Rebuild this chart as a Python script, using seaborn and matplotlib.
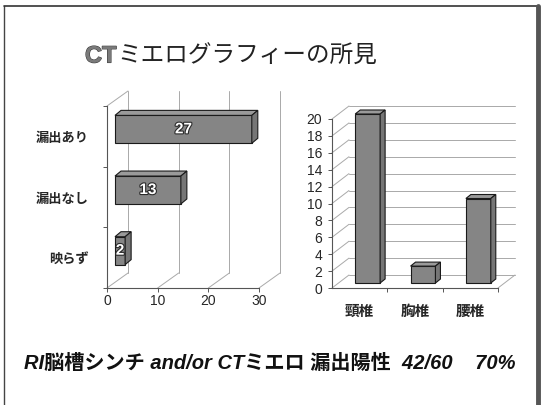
import matplotlib
matplotlib.use("Agg")
import matplotlib.pyplot as plt
import matplotlib.transforms as mtransforms
import matplotlib.patheffects as pe
from matplotlib.lines import Line2D
from matplotlib.patches import Polygon
import pandas as pd
import seaborn as sns

# ---- data ----
title_lead = "CT"
title_rest = "ミエログラフィーの所見"

leak_labels = ["漏出あり", "漏出なし", "映らず"]
leak_counts = [27, 13, 2]
leak_ticks = [0, 10, 20, 30]

level_labels = ["頸椎", "胸椎", "腰椎"]
level_counts = [20, 2, 10]
level_ticks = list(range(0, 21, 2))

footer = "RI脳槽シンチ and/or CTミエロ 漏出陽性  42/60    70%"

# ---- style ----
sns.set_theme(style="white")
plt.rcParams["font.family"] = ["Liberation Sans", "Noto Sans CJK JP"]

W, H, DPI = 542, 405, 100
fig = plt.figure(figsize=(W / DPI, H / DPI), dpi=DPI)
fig.patch.set_facecolor("white")

BAR_FRONT = "#858585"
BAR_TOP = "#9a9a9a"
BAR_SIDE = "#767676"
EDGE = "#1a1a1a"
GRID = "#a9a9a9"
AXIS = "#555555"
IDENT = mtransforms.IdentityTransform()


def px_axes(x0, y_top, x1, y_bot):
    """Axes placed by pixel box measured from the top-left corner."""
    return fig.add_axes([x0 / W, 1 - y_bot / H, (x1 - x0) / W, (y_bot - y_top) / H])


def shifted(ax, dx, dy):
    return ax.transData + mtransforms.ScaledTranslation(dx / DPI, dy / DPI, fig.dpi_scale_trans)


def depth_line(ax, x, y, dx, dy, **kw):
    px, py = ax.transData.transform((x, y))
    ax.add_line(Line2D([px, px + dx], [py, py + dy], transform=IDENT,
                       clip_on=False, **kw))


def extrude(ax, rect, ox, oy, dx, dy):
    """Shift a bar to its front plane and add top and side faces."""
    rect.set_transform(shifted(ax, ox, oy))
    rect.set_clip_on(False)
    rect.set_facecolor(BAR_FRONT)
    rect.set_edgecolor(EDGE)
    rect.set_linewidth(0.8)
    x0, y0 = rect.get_x(), rect.get_y()
    x1, y1 = x0 + rect.get_width(), y0 + rect.get_height()
    pa = ax.transData.transform((x0, y0))
    pb = ax.transData.transform((x1, y1))
    l, r = min(pa[0], pb[0]) + ox, max(pa[0], pb[0]) + ox
    b, t = min(pa[1], pb[1]) + oy, max(pa[1], pb[1]) + oy
    top = [(l, t), (r, t), (r + dx, t + dy), (l + dx, t + dy)]
    side = [(r, b), (r, t), (r + dx, t + dy), (r + dx, b + dy)]
    for pts, col in ((top, BAR_TOP), (side, BAR_SIDE)):
        ax.add_patch(Polygon(pts, closed=True, transform=IDENT, clip_on=False,
                             facecolor=col, edgecolor=EDGE, linewidth=0.8, zorder=3))


def bar_label(ax, x, y, text, ox, oy):
    ax.text(x, y, text, transform=shifted(ax, ox, oy), ha="center", va="center",
            fontsize=11, fontweight="bold", color="white", zorder=5,
            path_effects=[pe.withStroke(linewidth=1.6, foreground="#2a2a2a")])


# ---- slide frame ----
fig.add_artist(Line2D([4, 4], [0, H - 6], transform=IDENT, color="#444444", lw=1.0))
fig.add_artist(Line2D([4, 538], [H - 6, H - 6], transform=IDENT, color="#333333", lw=1.2))
fig.add_artist(Line2D([538, 538], [0, H - 6], transform=IDENT, color="#555555", lw=3.5))

# ---- title ----
t1 = fig.text(85 / W, 1 - 56 / H, title_lead, fontsize=17, fontweight="bold",
              color="#7a7a7a", ha="left", va="center",
              path_effects=[pe.withStroke(linewidth=0.8, foreground="#3a3a3a")])
renderer = fig.canvas.get_renderer()
bb = t1.get_window_extent(renderer)
fig.text(bb.x1 / W + 1 / W, 1 - 56 / H, title_rest, fontsize=17, color="#222222",
         ha="left", va="center", family=["Noto Sans CJK JP", "DejaVu Sans"])

# ---- left chart: horizontal 3D bars ----
LDX, LDY = 21, 15          # wall depth in pixels
axL = px_axes(107, 106, 259, 288)
df_leak = pd.DataFrame({"label": leak_labels, "count": leak_counts})
sns.barplot(data=df_leak, x="count", y="label", orient="h", color=BAR_FRONT,
            width=0.46, ax=axL, zorder=2)
axL.set_xlim(0, 30)
axL.set_ylim(2.5, -0.5)
axL.set_xlabel("")
axL.set_ylabel("")
axL.set_facecolor("none")

for v in leak_ticks:
    axL.plot([v, v], [2.5, -0.5], transform=shifted(axL, LDX, LDY), color=GRID,
             lw=0.7, clip_on=False, zorder=0.5)
    depth_line(axL, v, 2.5, LDX, LDY, color=GRID, lw=0.7, zorder=0.5)
depth_line(axL, 0, -0.5, LDX, LDY, color=GRID, lw=0.7, zorder=0.5)

for rect in list(axL.patches):
    extrude(axL, rect, 8, 7, 6, 5)
for i, v in enumerate(leak_counts):
    bar_label(axL, v / 2, i, str(v), 8, 7)

for side in ("top", "right"):
    axL.spines[side].set_visible(False)
for side in ("left", "bottom"):
    axL.spines[side].set_color(AXIS)
    axL.spines[side].set_linewidth(0.8)
axL.set_xticks(leak_ticks)
axL.set_yticks(range(len(leak_labels)))
axL.set_yticklabels(leak_labels, fontsize=9.5, fontweight="bold",
                    family=["Noto Sans CJK JP", "DejaVu Sans"])
axL.set_yticks([-0.5, 0.5, 1.5, 2.5], minor=True)
axL.tick_params(axis="x", bottom=True, length=3, width=0.7, color=AXIS,
                labelsize=10, pad=1)
axL.tick_params(axis="y", which="major", left=True, length=0, pad=13)
axL.tick_params(axis="y", which="minor", left=True, length=3, width=0.7, color=AXIS)

# ---- right chart: vertical 3D columns ----
RDX, RDY = 17, 13
axR = px_axes(332, 119, 498, 288)
df_level = pd.DataFrame({"level": level_labels, "count": level_counts})
sns.barplot(data=df_level, x="level", y="count", color=BAR_FRONT, width=0.45,
            ax=axR, zorder=2)
axR.set_xlim(-0.5, 2.5)
axR.set_ylim(0, 20)
axR.set_xlabel("")
axR.set_ylabel("")
axR.set_facecolor("none")

for t in level_ticks:
    axR.plot([-0.5, 2.5], [t, t], transform=shifted(axR, RDX, RDY), color=GRID,
             lw=0.7, clip_on=False, zorder=0.5)
    depth_line(axR, -0.5, t, RDX, RDY, color=GRID, lw=0.7, zorder=0.5)
depth_line(axR, 2.5, 0, RDX, RDY, color=GRID, lw=0.7, zorder=0.5)

for rect in list(axR.patches):
    extrude(axR, rect, 8, 5, 5, 4)

for side in ("top", "right"):
    axR.spines[side].set_visible(False)
for side in ("left", "bottom"):
    axR.spines[side].set_color(AXIS)
    axR.spines[side].set_linewidth(0.8)
axR.set_yticks(level_ticks)
axR.set_xticks(range(len(level_labels)))
axR.set_xticklabels(level_labels, fontsize=10.5, fontweight="bold",
                    family=["Noto Sans CJK JP", "DejaVu Sans"])
axR.set_xticks([0.5, 1.5, 2.5], minor=True)
axR.tick_params(axis="y", left=True, length=3, width=0.7, color=AXIS,
                labelsize=10, pad=4)
axR.tick_params(axis="x", which="major", bottom=True, length=0, pad=11)
axR.tick_params(axis="x", which="minor", bottom=True, length=3, width=0.7, color=AXIS)

# ---- footer ----
fig.text(270 / W, 1 - 363 / H, footer, fontsize=14.5, fontweight="bold",
         style="italic", color="#111111", ha="center", va="center",
         family=["Liberation Sans", "Noto Sans CJK JP"])

fig.savefig("out.png", dpi=DPI)
